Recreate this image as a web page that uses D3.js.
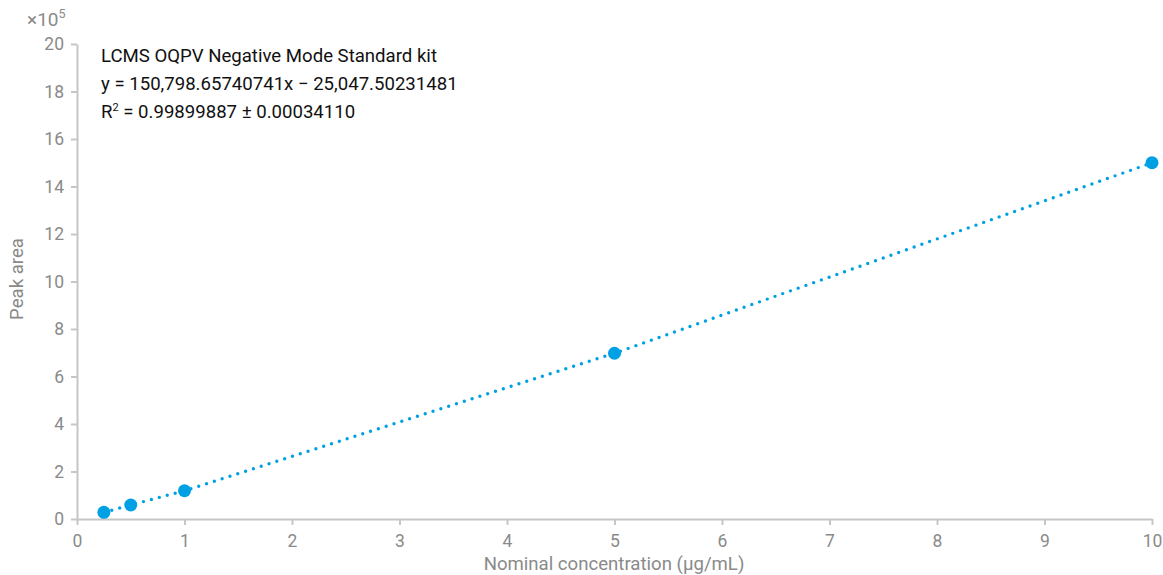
<html>
<head>
<meta charset="UTF-8">
<script src="https://d3js.org/d3.v7.min.js"></script>
<style>
  body { margin: 0; background: #fff; font-family: Roboto, "Noto Sans", sans-serif; }
  .axis text { fill: #8a8a8a; font-size: 17.5px; font-family: Roboto, sans-serif; }
  .axis path, .axis line { stroke: #c6c6c6; stroke-width: 2; }
</style>
</head>
<body>
<svg width="1163" height="575"></svg>
<script>
// data (peak area in units of 1e5)
const concentrations = [0.25, 0.5, 1, 5, 10];
const peakAreas = [0.28, 0.59, 1.19, 6.98, 15.0];
const xTicks = [0, 1, 2, 3, 4, 5, 6, 7, 8, 9, 10];
const yTicks = [0, 2, 4, 6, 8, 10, 12, 14, 16, 18, 20];
const notes = [
  "LCMS OQPV Negative Mode Standard kit",
  "y = 150,798.65740741x \u2212 25,047.50231481",
  "R\u00B2 = 0.99899887 \u00B1 0.00034110"
];

const color = "#00a0e4";
const svg = d3.select("svg");
const sx = d3.scaleLinear().domain([0, 10]).range([77, 1152]);
const sy = d3.scaleLinear().domain([0, 20]).range([519, 44]);

svg.append("g").attr("class", "axis")
  .attr("transform", "translate(0,519)")
  .call(d3.axisBottom(sx).tickValues(xTicks).tickSize(6).tickSizeOuter(0).tickPadding(6))
  .selectAll("text").attr("dy", "0.9em");

svg.append("g").attr("class", "axis")
  .attr("transform", "translate(77,0)")
  .call(d3.axisLeft(sy).tickValues(yTicks).tickSize(6).tickSizeOuter(0).tickPadding(7));

// exponent label
const ex = svg.append("text").attr("x", 27).attr("y", 26)
  .attr("fill", "#8a8a8a").style("font-size", "19px");
ex.append("tspan").text("\u00D710");
ex.append("tspan").attr("dy", -8).style("font-size", "12.5px").text("5");

// axis titles
svg.append("text").attr("x", 614).attr("y", 570).attr("text-anchor", "middle")
  .attr("fill", "#8a8a8a").style("font-size", "18.6px")
  .text("Nominal concentration (\u00B5g/mL)");
svg.append("text").attr("transform", "translate(23,279) rotate(-90)")
  .attr("text-anchor", "middle").attr("fill", "#8a8a8a").style("font-size", "18.6px")
  .text("Peak area");

const pts = concentrations.map((c, i) => [c, peakAreas[i]]);

svg.append("path").datum(pts)
  .attr("fill", "none").attr("stroke", color).attr("stroke-width", 3.4)
  .attr("stroke-linecap", "round").attr("stroke-dasharray", "0 8.2")
  .attr("d", d3.line().x(d => sx(d[0])).y(d => sy(d[1])));

svg.selectAll("circle.pt").data(pts).enter().append("circle")
  .attr("class", "pt")
  .attr("cx", d => sx(d[0])).attr("cy", d => sy(d[1]))
  .attr("r", 6.5).attr("fill", color);

// annotation
svg.selectAll("text.note").data(notes).enter().append("text")
  .attr("class", "note")
  .attr("x", 101).attr("y", (d, i) => 62 + i * 28)
  .attr("fill", "#111").style("font-size", "18.6px")
  .each(function (d, i) {
    const t = d3.select(this);
    if (i === 2) {
      t.append("tspan").text("R");
      t.append("tspan").attr("dy", -7).style("font-size", "11px").text("2");
      t.append("tspan").attr("dy", 7).text(" = 0.99899887 \u00B1 0.00034110");
    } else {
      t.text(d);
    }
  });
</script>
</body>
</html>
